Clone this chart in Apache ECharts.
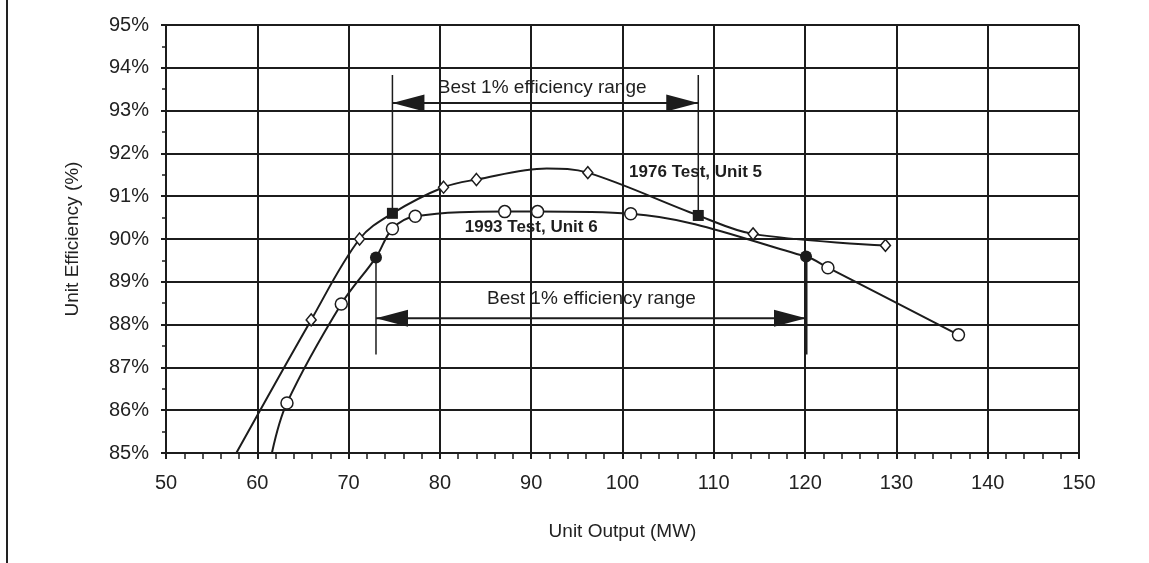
<!DOCTYPE html>
<html>
<head>
<meta charset="utf-8">
<script src="https://cdn.jsdelivr.net/npm/echarts@6/dist/echarts.min.js"></script>
<style>
  html, body { margin: 0; padding: 0; background: #fff; }
  #echarts { width: 1149px; height: 563px; }
</style>
</head>
<body>
<div id="echarts"></div>
<script>
// 1976 Test, Unit 5
var curve1976 = [[57.7, 85.0], [65.9, 88.11], [71.2, 90.0], [74.8, 90.6], [80.4, 91.21], [84.0, 91.39],
  [91.7, 91.65], [96.2, 91.55], [108.3, 90.55], [114.3, 90.12], [128.8, 89.85]];
var diamond1976 = [[65.9, 88.11], [71.2, 90.0], [80.4, 91.21], [84.0, 91.39], [96.2, 91.55], [114.3, 90.12], [128.8, 89.85]];
var square1976 = [[74.8, 90.6], [108.3, 90.55]];

// 1993 Test, Unit 6
var curve1993 = [[61.6, 85.0], [63.25, 86.17], [69.2, 88.48], [73.0, 89.57], [74.8, 90.24], [77.3, 90.53],
  [87.1, 90.64], [90.7, 90.64], [100.9, 90.59], [120.1, 89.59], [122.5, 89.33], [136.8, 87.76]];
var circle1993 = [[63.25, 86.17], [69.2, 88.48], [74.8, 90.24], [77.3, 90.53], [87.1, 90.64], [90.7, 90.64],
  [100.9, 90.59], [122.5, 89.33], [136.8, 87.76]];
var dot1993 = [[73.0, 89.57], [120.1, 89.59]];

// best 1% ranges
var topRange = [74.8, 108.3];
var topArrowY = 93.18;
var topLineTop = 93.83;
var bottomRange = [73.0, 120.1];
var bottomArrowY = 88.15;
var bottomLineEnd = 87.3;

// notes
var notes = [
  { name: 'Best 1% efficiency range', value: [91.2, 93.53] },
  { name: 'Best 1% efficiency range', value: [96.6, 88.6] },
  { name: '1976 Test, Unit 5', value: [108.0, 91.56] },
  { name: '1993 Test, Unit 6', value: [90.0, 90.28] }
];

var INK = '#1c1c1c';
var FONT = 'Liberation Sans, Arial, sans-serif';

var myChart = echarts.init(document.getElementById('echarts'));

function seg(a, b, w) {
  return {
    type: 'line', data: [a, b], symbol: 'none', silent: true, z: 3,
    lineStyle: { color: INK, width: w || 1.5 }
  };
}

var option = {
  backgroundColor: '#fff',
  animation: false,
  textStyle: { fontFamily: FONT },
  graphic: [{
    type: 'line', shape: { x1: 7, y1: 0, x2: 7, y2: 563 },
    style: { stroke: '#222', lineWidth: 2 }
  }],
  grid: { left: 166, top: 25, right: 70, bottom: 110, containLabel: false },
  xAxis: {
    type: 'value', min: 50, max: 150, interval: 10,
    name: 'Unit Output (MW)', nameLocation: 'middle', nameGap: 69,
    nameTextStyle: { fontSize: 19, color: '#222', fontFamily: FONT },
    axisLine: { lineStyle: { color: INK, width: 2 } },
    axisTick: { show: true, length: 6, lineStyle: { color: INK, width: 2 } },
    minorTick: { show: true, splitNumber: 5, length: 6, lineStyle: { color: INK, width: 1.5 } },
    axisLabel: { fontSize: 20, color: '#222', margin: 20, fontFamily: FONT },
    splitLine: { show: true, lineStyle: { color: INK, width: 2 } }
  },
  yAxis: {
    type: 'value', min: 85, max: 95, interval: 1,
    name: 'Unit Efficiency (%)', nameLocation: 'middle', nameGap: 84, nameRotate: 90,
    nameTextStyle: { fontSize: 19, color: '#222', fontFamily: FONT },
    axisLine: { show: true, lineStyle: { color: INK, width: 2 } },
    axisTick: { show: true, length: 5, lineStyle: { color: INK, width: 2 } },
    minorTick: { show: true, splitNumber: 2, length: 4, lineStyle: { color: INK, width: 1.5 } },
    axisLabel: { fontSize: 20, color: '#222', margin: 17, formatter: '{value}%', fontFamily: FONT },
    splitLine: { show: true, lineStyle: { color: INK, width: 2 } }
  },
  series: [
    {
      name: '1976 Test, Unit 5', type: 'line', data: curve1976, smooth: 0.35, symbol: 'none',
      clip: true, z: 4, lineStyle: { color: INK, width: 2 }
    },
    {
      name: '1993 Test, Unit 6', type: 'line', data: curve1993, smooth: 0.35, symbol: 'none',
      clip: true, z: 4, lineStyle: { color: INK, width: 2 }
    },
    {
      type: 'scatter', data: diamond1976, symbol: 'diamond', symbolSize: [10, 12], z: 6,
      itemStyle: { color: '#fff', borderColor: INK, borderWidth: 1.5, opacity: 1 }
    },
    {
      type: 'scatter', data: square1976, symbol: 'rect', symbolSize: 11, z: 6,
      itemStyle: { color: INK, opacity: 1 }
    },
    {
      type: 'scatter', data: circle1993, symbol: 'circle', symbolSize: 12, z: 6,
      itemStyle: { color: '#fff', borderColor: INK, borderWidth: 1.5, opacity: 1 }
    },
    {
      type: 'scatter', data: dot1993, symbol: 'circle', symbolSize: 12, z: 6,
      itemStyle: { color: INK, opacity: 1 }
    },
    // top range: verticals and shaft
    seg([topRange[0], topLineTop], square1976[0]),
    seg([topRange[1], topLineTop], square1976[1]),
    seg([topRange[0], topArrowY], [topRange[1], topArrowY], 2),
    // bottom range: verticals and shaft
    seg(dot1993[0], [bottomRange[0], bottomLineEnd]),
    seg(dot1993[1], [bottomRange[1], bottomLineEnd], 3),
    seg([bottomRange[0], bottomArrowY], [bottomRange[1], bottomArrowY], 2),
    {
      type: 'scatter', silent: true, z: 7,
      data: [
        { value: [topRange[0], topArrowY], symbolRotate: 90, symbolOffset: [16, 0] },
        { value: [topRange[1], topArrowY], symbolRotate: -90, symbolOffset: [-16, 0] },
        { value: [bottomRange[0], bottomArrowY], symbolRotate: 90, symbolOffset: [16, 0] },
        { value: [bottomRange[1], bottomArrowY], symbolRotate: -90, symbolOffset: [-16, 0] }
      ],
      symbol: 'triangle', symbolSize: [17, 32],
      itemStyle: { color: INK, opacity: 1 }
    },
    {
      type: 'scatter', silent: true, z: 8, symbolSize: 0,
      itemStyle: { opacity: 1 },
      data: notes.map(function (n) {
        var bold = n.name.indexOf('Test') >= 0;
        return {
          name: n.name, value: n.value,
          label: bold ? { fontWeight: 'bold', fontSize: 17 } : {}
        };
      }),
      label: {
        show: true, position: 'inside', color: '#1e1e1e', fontSize: 19, fontFamily: FONT,
        formatter: function (p) { return p.name; }
      }
    }
  ]
};

myChart.setOption(option);
</script>
</body>
</html>
